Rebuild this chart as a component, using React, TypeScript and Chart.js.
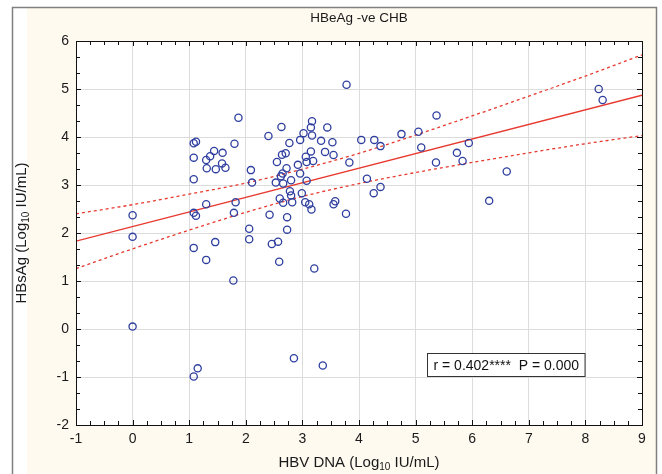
import React, { useEffect, useRef } from "react";
import { Chart, registerables } from "chart.js";

Chart.register(...registerables);

// HBV DNA (log10 IU/mL)
const dnaValues = [
  0, 0, 0, 1.08, 1.12, 1.08, 1.08, 1.44, 1.37, 1.3, 1.59, 1.58, 1.31, 1.47, 1.64, 1.8, 1.87,
  2.09, 2.11, 1.3, 1.82, 1.08, 1.12, 1.79, 2.06, 2.06, 1.08, 1.46, 1.3, 1.78, 1.15, 1.08,
  3.78, 5.37, 3.17, 3.15, 2.63, 3.44, 3.02, 3.17, 2.4, 2.96, 3.33, 3.53, 2.77, 4.04, 4.27,
  4.38, 4.75, 5.05, 5.1, 5.36, 3.15, 3.4, 3.55, 2.705, 2.64, 3.06, 2.55, 3.075, 3.19, 2.92,
  2.72, 3.83, 2.65, 2.96, 2.62, 2.8, 3.075, 2.53, 2.66, 4.14, 2.78, 2.99, 2.8, 2.6, 2.66,
  2.82, 3.05, 3.12, 3.58, 3.55, 3.16, 4.38, 4.26, 3.77, 2.42, 2.73, 2.73, 2.46, 2.57, 2.59,
  3.21, 2.85, 3.36, 5.73, 5.94, 5.83, 6.61, 6.3, 8.235, 8.305,
];
// HBsAg (log10 IU/mL)
const hbsagValues = [
  2.37, 1.92, 0.05, 3.87, 3.9, 3.57, 3.12, 3.71, 3.6, 3.52, 3.67, 3.45, 3.35, 3.33, 3.36, 3.86, 4.4,
  3.31, 3.05, 2.6, 2.64, 2.42, 2.36, 2.42, 2.09, 1.87, 1.69, 1.81, 1.44, 1.01, -0.82, -0.99,
  5.09, 4.45, 4.33, 4.2, 4.21, 4.2, 4.08, 4.03, 4.02, 3.94, 3.92, 3.89, 3.875, 3.94, 3.94,
  3.81, 4.06, 4.11, 3.78, 3.47, 3.7, 3.69, 3.625, 3.66, 3.63, 3.59, 3.48, 3.48, 3.5, 3.42,
  3.35, 3.47, 3.24, 3.24, 3.18, 3.1, 3.09, 3.05, 3.03, 3.13, 2.87, 2.83, 2.78, 2.72, 2.63,
  2.64, 2.64, 2.6, 2.66, 2.6, 2.49, 2.96, 2.83, 2.4, 2.38, 2.33, 2.07, 1.77, 1.82, 1.4,
  1.26, -0.61, -0.76, 3.67, 3.875, 3.5, 3.28, 2.67, 5.0, 4.77,
];

// Regression line (read at the axis ends)
const fitX = [-1, 9];
const fitY = [1.83, 4.87];

// 95% confidence band
const bandX = [-1, 0, 1, 2, 3, 4, 5, 6, 7, 8, 9];
const bandUpper = [2.4, 2.59, 2.81, 3.04, 3.33, 3.66, 4.04, 4.44, 4.85, 5.27, 5.71];
const bandLower = [1.26, 1.67, 2.06, 2.43, 2.76, 3.03, 3.26, 3.47, 3.67, 3.86, 4.03];

const xTickRange = [-1, 9];
const yTickRange = [-2, 6];

const titleText = "HBeAg -ve CHB";
const xTitleParts = ["HBV DNA (Log", "10", " IU/mL)"];
const yTitleParts = ["HBsAg (Log", "10", " IU/mL)"];
const statText = "r = 0.402****  P = 0.000";

const FONT = "'Liberation Sans', Arial, sans-serif";
const RED = "#e8392f";
const BLUE = "#2f3f9f";

function drawSubText(ctx: CanvasRenderingContext2D, parts: string[], cx: number, cy: number, rot: number) {
  const big = `15px ${FONT}`;
  const small = `10px ${FONT}`;
  ctx.save();
  ctx.translate(cx, cy);
  ctx.rotate(rot);
  ctx.font = big;
  const w0 = ctx.measureText(parts[0]).width;
  const w2 = ctx.measureText(parts[2]).width;
  ctx.font = small;
  const w1 = ctx.measureText(parts[1]).width;
  const total = w0 + w1 + w2;
  let x = -total / 2;
  ctx.fillStyle = "#1a1a1a";
  ctx.textBaseline = "middle";
  ctx.textAlign = "left";
  ctx.font = big;
  ctx.fillText(parts[0], x, 0);
  x += w0;
  ctx.font = small;
  ctx.fillText(parts[1], x, 4);
  x += w1;
  ctx.font = big;
  ctx.fillText(parts[2], x, 0);
  ctx.restore();
}

const decorPlugin = {
  id: "decor",
  beforeDraw(chart: any) {
    const { ctx, chartArea: a } = chart;
    ctx.save();
    ctx.fillStyle = "#ffffff";
    ctx.fillRect(0, 0, chart.width, chart.height);
    ctx.fillStyle = "#fefaf0";
    ctx.fillRect(27, 8, 629, chart.height - 8);
    ctx.strokeStyle = "#808080";
    ctx.lineWidth = 1.5;
    ctx.beginPath();
    ctx.moveTo(12.5, chart.height + 2);
    ctx.lineTo(12.5, 7.5);
    ctx.lineTo(656.5, 7.5);
    ctx.lineTo(656.5, chart.height + 2);
    ctx.stroke();
    ctx.fillStyle = "#ffffff";
    ctx.fillRect(a.left, a.top, a.right - a.left, a.bottom - a.top);
    ctx.restore();
  },
  afterDraw(chart: any) {
    const { ctx, chartArea: a } = chart;
    const xs = chart.scales.x;
    const ys = chart.scales.y;
    ctx.save();
    // frame of plot
    ctx.strokeStyle = "#111111";
    ctx.lineWidth = 1;
    ctx.strokeRect(Math.round(a.left) + 0.5, Math.round(a.top) + 0.5, Math.round(a.right - a.left), Math.round(a.bottom - a.top));
    // minor ticks
    ctx.beginPath();
    for (let i = 0; i <= (xTickRange[1] - xTickRange[0]) * 4; i++) {
      const v = xTickRange[0] + i / 4;
      const px = Math.round(xs.getPixelForValue(v)) + 0.5;
      const len = i % 4 === 0 ? 5 : 4;
      ctx.moveTo(px, a.bottom);
      ctx.lineTo(px, a.bottom - len);
      ctx.moveTo(px, a.top);
      ctx.lineTo(px, a.top + len);
    }
    for (let i = 0; i <= (yTickRange[1] - yTickRange[0]) * 3; i++) {
      const v = yTickRange[0] + i / 3;
      const py = Math.round(ys.getPixelForValue(v)) + 0.5;
      const len = i % 3 === 0 ? 5 : 4;
      ctx.moveTo(a.left, py);
      ctx.lineTo(a.left + len, py);
      ctx.moveTo(a.right, py);
      ctx.lineTo(a.right - len, py);
    }
    ctx.stroke();
    // title
    ctx.fillStyle = "#1a1a1a";
    ctx.font = `13.5px ${FONT}`;
    ctx.textAlign = "center";
    ctx.textBaseline = "middle";
    ctx.fillText(titleText, (a.left + a.right) / 2, 18);
    // axis titles
    drawSubText(ctx, xTitleParts, (a.left + a.right) / 2, 463, 0);
    drawSubText(ctx, yTitleParts, 22, (a.top + a.bottom) / 2, -Math.PI / 2);
    // stats box
    ctx.font = `14px ${FONT}`;
    const tw = ctx.measureText(statText).width;
    const bx = 427.5, by = 353.5, bw = tw + 12, bh = 23;
    ctx.fillStyle = "#ffffff";
    ctx.fillRect(bx, by, bw, bh);
    ctx.strokeStyle = "#333333";
    ctx.lineWidth = 1;
    ctx.strokeRect(bx, by, bw, bh);
    ctx.fillStyle = "#111111";
    ctx.textAlign = "left";
    ctx.fillText(statText, bx + 6, by + bh / 2 + 1);
    ctx.restore();
  },
};

export default function App() {
  const ref = useRef<HTMLCanvasElement | null>(null);
  useEffect(() => {
    if (!ref.current) return;
    const chart = new Chart(ref.current, {
      type: "scatter",
      data: {
        datasets: [
          {
            label: "points",
            data: dnaValues.map((x, i) => ({ x, y: hbsagValues[i] })),
            pointStyle: "circle",
            pointRadius: 3.6,
            borderColor: BLUE,
            backgroundColor: "rgba(0,0,0,0)",
            borderWidth: 1.3,
            showLine: false,
            order: 0,
          } as any,
          {
            label: "fit",
            data: fitX.map((x, i) => ({ x, y: fitY[i] })),
            showLine: true,
            pointRadius: 0,
            borderColor: RED,
            borderWidth: 1.3,
            order: 1,
          },
          {
            label: "upper",
            data: bandX.map((x, i) => ({ x, y: bandUpper[i] })),
            showLine: true,
            pointRadius: 0,
            borderColor: RED,
            borderWidth: 1.3,
            borderDash: [3, 3],
            cubicInterpolationMode: "monotone",
            order: 1,
          } as any,
          {
            label: "lower",
            data: bandX.map((x, i) => ({ x, y: bandLower[i] })),
            showLine: true,
            pointRadius: 0,
            borderColor: RED,
            borderWidth: 1.3,
            borderDash: [3, 3],
            cubicInterpolationMode: "monotone",
            order: 1,
          } as any,
        ],
      },
      options: {
        animation: false,
        responsive: false,
        layout: { padding: { left: 0, top: 41, right: 20, bottom: 0 } },
        plugins: { legend: { display: false }, tooltip: { enabled: false }, title: { display: false } },
        scales: {
          x: {
            type: "linear",
            min: xTickRange[0],
            max: xTickRange[1],
            ticks: { stepSize: 1, padding: 6, color: "#1a1a1a", font: { family: FONT, size: 14 } },
            grid: { color: "#dcdcdc", drawTicks: false },
            border: { display: false },
            afterFit: (s: any) => {
              s.height = 49;
            },
          },
          y: {
            type: "linear",
            min: yTickRange[0],
            max: yTickRange[1],
            ticks: { stepSize: 1, padding: 7, color: "#1a1a1a", font: { family: FONT, size: 14 } },
            grid: { color: "#dcdcdc", drawTicks: false },
            border: { display: false },
            afterFit: (s: any) => {
              s.width = 76;
            },
          },
        },
      },
      plugins: [decorPlugin],
    });
    return () => chart.destroy();
  }, []);
  return (
    <div style={{ position: "fixed", left: 0, top: 0, width: 662, height: 474 }}>
      <canvas ref={ref} width={662} height={474} style={{ width: 662, height: 474, display: "block" }} />
    </div>
  );
}
